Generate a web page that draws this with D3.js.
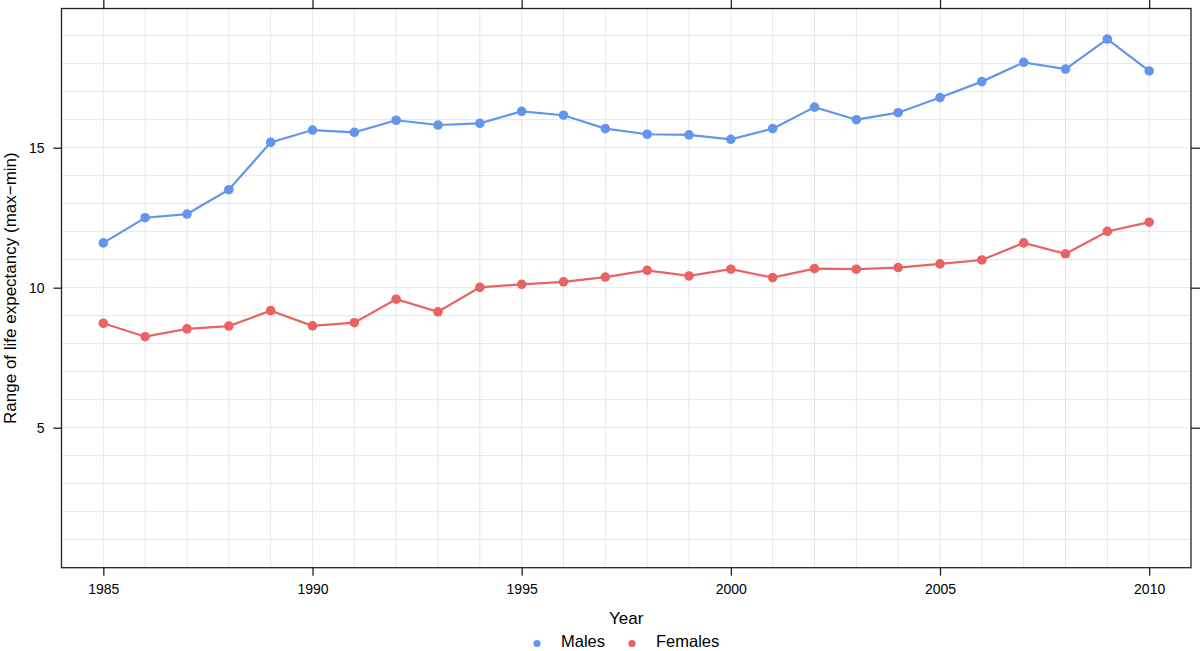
<!DOCTYPE html>
<html><head><meta charset="utf-8">
<script src="https://cdn.jsdelivr.net/npm/d3@7"></script>
<style>body{margin:0;background:#fff}svg{display:block}text{font-family:"Liberation Sans",Arial,sans-serif;fill:#000}</style>
</head><body><svg id="c" width="1200" height="651"></svg>
<script>
const years = d3.range(1985, 2011);
const males = [11.6,12.5,12.63,13.5,15.19,15.63,15.55,15.98,15.81,15.87,16.3,16.16,15.68,15.48,15.46,15.3,15.68,16.45,16.0,16.25,16.79,17.36,18.05,17.81,18.88,17.74];
const females = [8.73,8.25,8.53,8.63,9.18,8.64,8.75,9.59,9.14,10.01,10.12,10.21,10.38,10.62,10.42,10.66,10.36,10.68,10.66,10.72,10.85,10.99,11.6,11.21,12.01,12.34];
const xTicks = [1985,1990,1995,2000,2005,2010];
const yTicks = [5,10,15];
const seriesNames = ["Males","Females"];
const colors = ["#6495ED","#E86462"];

const svg = d3.select("#c");
const L=61.5,R=1191,T=8.5,B=567.7;
const x = d3.scaleLinear().domain([1984,2011]).range([L,R]);
const y = d3.scaleLinear().domain([0,20]).range([B,B-560]);

const g = svg.append("g");
g.selectAll(".vg").data(d3.range(1985,2011)).join("line")
 .attr("x1",d=>x(d)).attr("x2",d=>x(d)).attr("y1",T).attr("y2",B)
 .attr("stroke","#e6e6e6").attr("stroke-width",1);
g.selectAll(".hg").data(d3.range(1,20)).join("line")
 .attr("y1",d=>y(d)).attr("y2",d=>y(d)).attr("x1",L).attr("x2",R)
 .attr("stroke","#e6e6e6").attr("stroke-width",1);

const ax = (sel)=>sel.attr("font-size",14).attr("font-family","Liberation Sans, Arial, sans-serif")
  .call(s=>s.select(".domain").remove())
  .call(s=>s.selectAll("line").attr("stroke","#222").attr("stroke-width",1.3))
  .call(s=>s.selectAll("text").attr("font-size",14));
svg.append("g").attr("transform",`translate(0,${B})`).call(d3.axisBottom(x).tickValues(xTicks).tickFormat(d3.format("d")).tickSize(8).tickPadding(8)).call(ax);
svg.append("g").attr("transform",`translate(0,${T})`).call(d3.axisTop(x).tickValues(xTicks).tickFormat("").tickSize(9)).call(ax);
svg.append("g").attr("transform",`translate(${L},0)`).call(d3.axisLeft(y).tickValues(yTicks).tickFormat(d3.format("d")).tickSize(8).tickPadding(9)).call(ax);
svg.append("g").attr("transform",`translate(${R},0)`).call(d3.axisRight(y).tickValues(yTicks).tickFormat("").tickSize(9)).call(ax);

svg.append("rect").attr("x",L).attr("y",T).attr("width",R-L).attr("height",B-T)
 .attr("fill","none").attr("stroke","#222").attr("stroke-width",1.3);

const line = d3.line().x((d,i)=>x(years[i])).y(d=>y(d));
[males,females].forEach((s,k)=>{
  svg.append("path").datum(s).attr("d",line).attr("fill","none").attr("stroke",colors[k]).attr("stroke-width",2.2);
  svg.append("g").selectAll("circle").data(s).join("circle")
   .attr("cx",(d,i)=>x(years[i])).attr("cy",d=>y(d)).attr("r",4.8).attr("fill",colors[k]);
});

svg.append("text").attr("x",(L+R)/2).attr("y",624).attr("text-anchor","middle").attr("font-size",17).text("Year");
svg.append("text").attr("transform",`translate(16,${(T+B)/2}) rotate(-90)`).attr("text-anchor","middle").attr("font-size",17).text("Range of life expectancy (max\u2212min)");

const lg = svg.append("g");
const lx=[537,632];
seriesNames.forEach((n,k)=>{
  lg.append("circle").attr("cx",lx[k]).attr("cy",643.5).attr("r",3.6).attr("fill",colors[k]);
  lg.append("text").attr("x",lx[k]+24).attr("y",647).attr("font-size",16.5).text(n);
});
</script></body></html>
